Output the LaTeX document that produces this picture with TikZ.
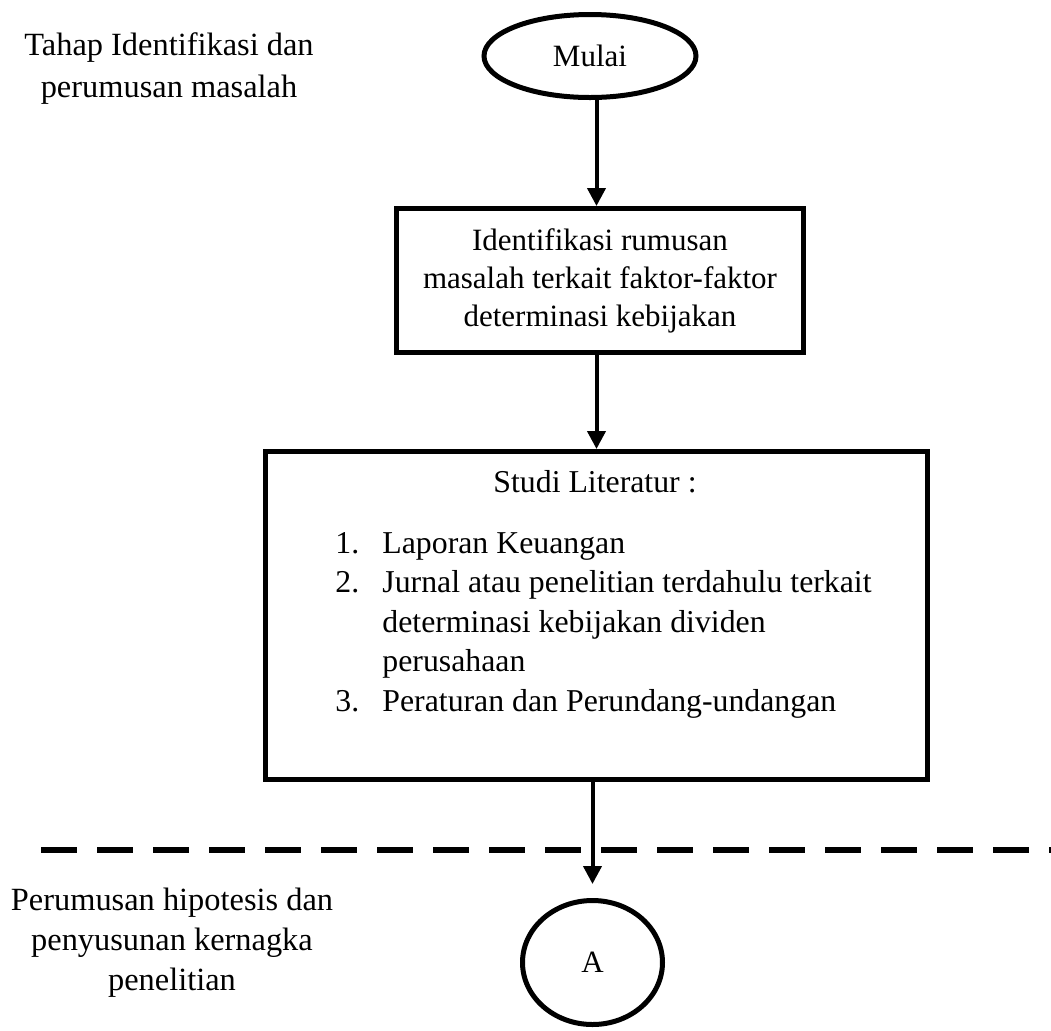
\documentclass[tikz,border=0pt]{standalone}
\usepackage{fontspec}
\setmainfont{Liberation Serif}
\usetikzlibrary{shapes.geometric,arrows.meta}
\begin{document}
\begin{tikzpicture}[x=0.5pt,y=-0.5pt,
  every node/.style={font=\fontsize{15.5pt}{19pt}\selectfont},
  boxnode/.style={draw,line width=2.5pt,rectangle,inner sep=0pt,align=center},
  ovalnode/.style={draw,line width=2.5pt,ellipse,inner sep=0pt},
  arr/.style={line width=2pt,-{Triangle[width=9pt,length=9pt]}},
  lbl/.style={anchor=base,inner sep=0pt},
  sidelbl/.style={anchor=base,inner sep=0pt,font=\fontsize{16.2pt}{20pt}\selectfont},
  lblw/.style={anchor=base west,inner sep=0pt,font=\fontsize{15.9pt}{20pt}\selectfont},
  sepline/.style={line width=3pt,dash pattern=on 18pt off 10pt}]
\useasboundingbox (0,0) rectangle (1051,1030);
% left labels
\node[sidelbl] (t1) at (169,55) {Tahap Identifikasi dan};
\node[sidelbl] (t2) at (169,97) {perumusan masalah};
\node[sidelbl] (p1) at (172,910) {Perumusan hipotesis dan};
\node[sidelbl] (p2) at (172,950) {penyusunan kernagka};
\node[sidelbl] (p3) at (172,990) {penelitian};
% flow
\node[ovalnode,minimum width=106pt,minimum height=41.5pt] (mulai) at (590,56) {Mulai};
\node[boxnode,minimum width=203.5pt,minimum height=72pt] (box1) at (600,280.5)
  {Identifikasi rumusan\\masalah terkait faktor-faktor\\determinasi kebijakan};
\node[boxnode,minimum width=331pt,minimum height=164pt] (box2) at (596.5,615.5) {};
\node[lbl,font=\fontsize{15.9pt}{20pt}\selectfont] (s0) at (595,492) {Studi Literatur :};
\node[lblw] (n1) at (335,553) {1.};
\node[lblw] (i1) at (382,553) {Laporan Keuangan};
\node[lblw] (n2) at (335,592.5) {2.};
\node[lblw] (i2a) at (382,592.5) {Jurnal atau penelitian terdahulu terkait};
\node[lblw] (i2b) at (382,632) {determinasi kebijakan dividen};
\node[lblw] (i2c) at (382,671.5) {perusahaan};
\node[lblw] (n3) at (335,711) {3.};
\node[lblw] (i3) at (382,711) {Peraturan dan Perundang-undangan};
\node[ovalnode,minimum width=70pt,minimum height=62pt] (circA) at (592.5,962.5) {A};
% separator
\coordinate (dl) at (41,850);
\coordinate (dr) at (1051,850);
\draw[sepline] (dl) -- (dr);
% arrows
\draw[arr] (mulai.south -| box2.north) -- (box1.north -| box2.north);
\draw[arr] (box1.south -| box2.north) -- (box2.north);
\draw[arr,shorten >=7pt] (box2.south -| circA.north) -- (circA.north);
\end{tikzpicture}
\end{document}
